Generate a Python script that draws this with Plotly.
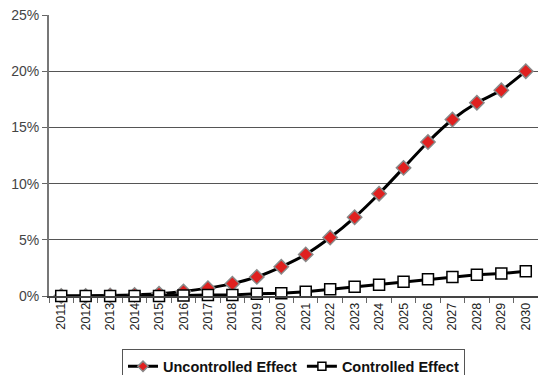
import plotly.graph_objects as go

years = [str(y) for y in range(2011, 2031)]
uncontrolled = [0.0, 0.0, 0.05, 0.1, 0.2, 0.4, 0.7, 1.1, 1.7, 2.6, 3.7, 5.2, 7.0, 9.1, 11.4, 13.7, 15.7, 17.2, 18.3, 20.0]
controlled = [0.0, 0.0, 0.0, 0.0, 0.0, 0.05, 0.08, 0.1, 0.2, 0.25, 0.38, 0.6, 0.83, 1.0, 1.27, 1.48, 1.69, 1.9, 2.0, 2.2]
y_ticks = [0, 5, 10, 15, 20, 25]
y_labels = ["0%", "5%", "10%", "15%", "20%", "25%"]
names = ["Uncontrolled Effect", "Controlled Effect"]

unc_marker = dict(symbol="diamond", color="#e0201f", line=dict(color="#888888", width=1.5))
con_marker = dict(symbol="square", color="white", line=dict(color="black", width=1.5))

fig = go.Figure()
fig.add_trace(go.Scatter(
    x=years, y=uncontrolled, name=names[0], mode="lines+markers", showlegend=False,
    line=dict(color="black", width=3, shape="spline", smoothing=0.6),
    marker=dict(size=11, **unc_marker), cliponaxis=False,
))
fig.add_trace(go.Scatter(
    x=years, y=controlled, name=names[1], mode="lines+markers", showlegend=False,
    line=dict(color="black", width=3),
    marker=dict(size=11, **con_marker), cliponaxis=False,
))
# legend entries (small symbols, as in the reference)
fig.add_trace(go.Scatter(
    x=[None], y=[None], name=names[0], mode="lines+markers",
    line=dict(color="black", width=3), marker=dict(size=8, **unc_marker),
))
fig.add_trace(go.Scatter(
    x=[None], y=[None], name=names[1], mode="lines+markers",
    line=dict(color="black", width=3), marker=dict(size=8, **con_marker),
))

fig.update_layout(
    width=538, height=375,
    margin=dict(l=49, r=0, t=15, b=79, autoexpand=False),
    paper_bgcolor="white", plot_bgcolor="white",
    font=dict(family="Liberation Sans, Arial, sans-serif", color="#333333"),
    showlegend=True,
    legend=dict(
        orientation="h", x=0.5, xanchor="center", y=-0.19, yanchor="top",
        bordercolor="#555555", borderwidth=1, bgcolor="white",
        font=dict(size=14.5, color="#111111", family="Liberation Sans, Arial, sans-serif", weight="bold"),
        itemwidth=30, tracegroupgap=0,
    ),
    xaxis=dict(
        type="category", tickangle=-90, tickfont=dict(size=12.5, color="#222222"),
        showgrid=False, ticks="outside", ticklen=5, tickcolor="#666666",
        showline=True, linecolor="#444444", linewidth=1.5,
        range=[-0.5, 19.5], tickson="boundaries",
        automargin=False,
    ),
    yaxis=dict(
        range=[0, 25], tickvals=y_ticks, ticktext=y_labels,
        tickfont=dict(size=14, color="#444444"),
        showgrid=True, gridcolor="#555555", gridwidth=1,
        ticks="outside", ticklen=5, tickcolor="#666666",
        showline=True, linecolor="#777777", linewidth=2,
        zeroline=False, automargin=False,
    ),
)
# remove the default 8px page margin so the figure fills the window exactly
fig.write_html("out.html", config={"displayModeBar": False},
               post_script="document.body.style.margin='0';")
